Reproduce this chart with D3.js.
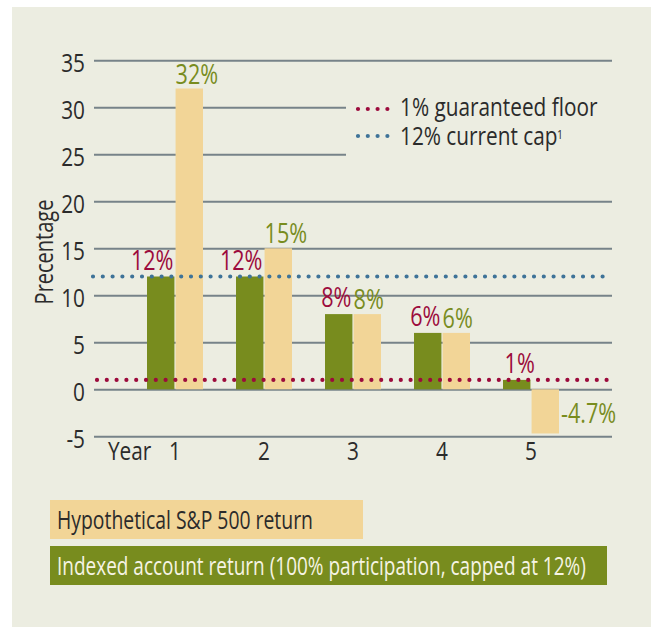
<!DOCTYPE html>
<html>
<head>
<meta charset="utf-8">
<script src="https://cdn.jsdelivr.net/npm/d3@7"></script>
<style>
  html, body { margin: 0; padding: 0; background: #ffffff; }
  svg { display: block; }
  text { font-family: "Open Sans", "Noto Sans", sans-serif; }
</style>
</head>
<body>
<svg id="chart" width="651" height="627"></svg>
<script>
// Hypothetical five-year comparison: S&P 500 return vs. indexed account return
const years = ["1", "2", "3", "4", "5"];
const indexedReturn = [12, 12, 8, 6, 1];       // capped at 12%, floored at 1%
const spReturn = [32, 15, 8, 6, -4.7];         // hypothetical S&P 500 return
const yTicks = [-5, 0, 5, 10, 15, 20, 25, 30, 35];
const floorRate = 1;
const capRate = 12;
const seriesKeys = ["indexed", "sp"];
const legendLines = ["1% guaranteed floor", "12% current cap"];
const footnoteMark = "1";
const legendBoxes = ["Hypothetical S&P 500 return", "Indexed account return (100% participation, capped at 12%)"];

const W = 651, H = 627;
const panelColor = "#ECEDE1";
const green = "#788C1E";
const tan = "#F2D597";
const crimson = "#9C0B3C";
const steel = "#3E7398";
const gridColor = "#778389";
const ink = "#2B2B2B";
const K = 0.8; // horizontal squeeze for a condensed look

const svg = d3.select("#chart");

// squeeze text horizontally about its anchor point
function condense(sel, k = K) {
  sel.each(function () {
    const t = d3.select(this);
    const tx = +t.attr("x") || 0, ty = +t.attr("y") || 0;
    t.attr("x", 0).attr("y", 0).attr("transform", `translate(${tx},${ty}) scale(${k},1)`);
  });
  return sel;
}

// background panel
svg.append("rect").attr("x", 12).attr("y", 7).attr("width", W - 12).attr("height", H - 7).attr("fill", panelColor);

const y = d3.scaleLinear().domain([-5, 35]).range([436.3, 60.3]);
const x0 = d3.scaleBand().domain(years).range([130.5, 575.5]).paddingInner(0).paddingOuter(0);
const x1 = d3.scaleBand().domain(seriesKeys).range([x0.bandwidth() / 2 - 28, x0.bandwidth() / 2 + 28]).paddingInner(0.04);

// gridlines + y tick labels
const yAxis = d3.axisLeft(y).tickValues(yTicks).tickSize(-(612 - 94)).tickPadding(9).tickFormat(d => String(d));
const gAxis = svg.append("g").attr("transform", "translate(94,0)").call(yAxis);
gAxis.select(".domain").remove();
gAxis.selectAll(".tick line").attr("stroke", gridColor).attr("stroke-width", 2);
gAxis.selectAll(".tick text").attr("fill", ink).attr("font-size", 26).attr("dy", "0.42em").call(condense);

// y axis title
svg.append("text")
  .attr("transform", `translate(53,252) rotate(-90) scale(${K},1)`)
  .attr("text-anchor", "middle")
  .attr("font-size", 25)
  .attr("fill", ink)
  .text("Precentage");

// legend backdrop that interrupts the upper gridlines
svg.append("rect").attr("x", 346).attr("y", 94).attr("width", 268).attr("height", 72).attr("fill", panelColor);

// bars
const groups = svg.append("g").selectAll("g").data(years).join("g")
  .attr("transform", d => `translate(${x0(d)},0)`);

groups.append("rect")
  .attr("x", x1("indexed")).attr("width", x1.bandwidth())
  .attr("y", (d, i) => y(Math.max(0, indexedReturn[i])))
  .attr("height", (d, i) => Math.abs(y(indexedReturn[i]) - y(0)))
  .attr("fill", green);

groups.append("rect")
  .attr("x", x1("sp")).attr("width", x1.bandwidth())
  .attr("y", (d, i) => y(Math.max(0, spReturn[i])))
  .attr("height", (d, i) => Math.abs(y(spReturn[i]) - y(0)))
  .attr("fill", tan);

// dotted floor / cap lines
function dottedLine(val, xa, xb, color) {
  svg.append("line")
    .attr("x1", xa).attr("x2", xb).attr("y1", y(val)).attr("y2", y(val))
    .attr("stroke", color).attr("stroke-width", 4.2)
    .attr("stroke-linecap", "round").attr("stroke-dasharray", "0 9.8");
}
dottedLine(capRate, 93, 608, steel);
dottedLine(floorRate, 97, 614, crimson);

// value labels: indexed (crimson) and S&P (olive)
const pct = v => `${v}%`;
groups.append("text")
  .attr("x", (d, i) => spReturn[i] < 0 ? x1("indexed") + x1.bandwidth() / 2 + 3 : x1("indexed") + x1.bandwidth() - 1)
  .attr("y", (d, i) => y(indexedReturn[i]) - 7)
  .attr("text-anchor", (d, i) => spReturn[i] < 0 ? "middle" : "end")
  .attr("font-size", 27)
  .attr("fill", crimson)
  .text((d, i) => pct(indexedReturn[i]))
  .call(condense);

groups.append("text")
  .attr("x", (d, i) => spReturn[i] < 0 ? x1("sp") + x1.bandwidth() + 2 : x1("sp"))
  .attr("y", (d, i) => spReturn[i] < 0 ? (y(spReturn[i]) + y(0)) / 2 + 11.5 : y(spReturn[i]) - 5)
  .attr("text-anchor", "start")
  .attr("font-size", 27)
  .attr("fill", green)
  .text((d, i) => pct(spReturn[i]))
  .call(condense);

// x axis labels
const xAxis = d3.axisBottom(x0).tickSize(0).tickPadding(0);
const gx = svg.append("g").attr("transform", `translate(0,${y(-5)})`).call(xAxis);
gx.select(".domain").remove();
gx.selectAll(".tick text").attr("fill", ink).attr("font-size", 26).attr("dy", null).attr("y", 24).call(condense);
svg.append("text").attr("x", 108).attr("y", y(-5) + 24).attr("font-size", 26).attr("fill", ink).text("Year").call(condense);

// top-right legend
const legendItems = [
  { label: legendLines[0], color: crimson, yy: 109, base: 116 },
  { label: legendLines[1], color: steel, yy: 136, base: 145 }
];
legendItems.forEach(it => {
  svg.append("line")
    .attr("x1", 358).attr("x2", 389).attr("y1", it.yy).attr("y2", it.yy)
    .attr("stroke", it.color).attr("stroke-width", 4.2)
    .attr("stroke-linecap", "round").attr("stroke-dasharray", "0 9.8");
  svg.append("text").attr("x", 400).attr("y", it.base).attr("font-size", 26).attr("fill", ink).text(it.label).call(condense);
});
// footnote marker on the cap entry
svg.append("text").attr("x", 557).attr("y", 139).attr("font-size", 13).attr("fill", ink).text(footnoteMark).call(condense);

// bottom legend boxes
svg.append("rect").attr("x", 50).attr("y", 500).attr("width", 313).attr("height", 39).attr("fill", tan);
svg.append("text").attr("x", 57).attr("y", 529).attr("font-size", 25).attr("fill", ink).text(legendBoxes[0]).call(condense, 0.775);
svg.append("rect").attr("x", 50).attr("y", 546).attr("width", 557).attr("height", 39).attr("fill", green);
svg.append("text").attr("x", 57).attr("y", 575).attr("font-size", 25).attr("fill", "#F6F4E4").text(legendBoxes[1]).call(condense, 0.76);
</script>
</body>
</html>
